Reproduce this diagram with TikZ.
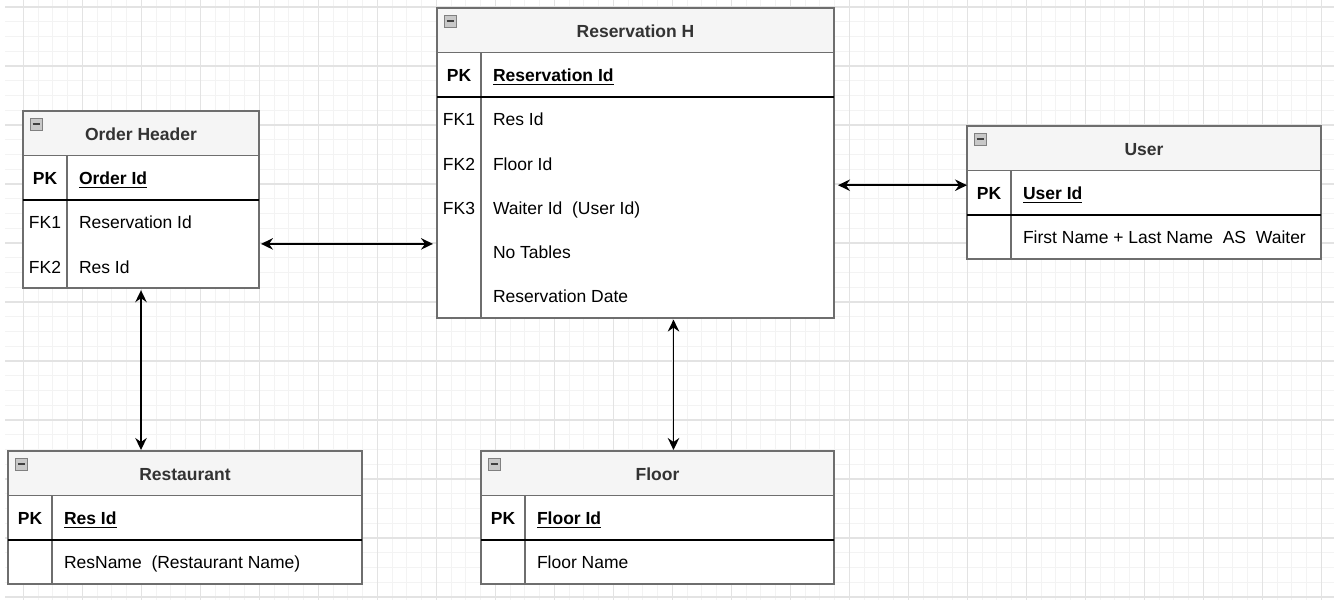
\documentclass[tikz,border=0pt]{standalone}
\usepackage{fontspec}
\setmainfont{Liberation Sans}
\usetikzlibrary{arrows.meta}
\definecolor{gridmajor}{HTML}{E3E3E3}
\definecolor{gridminor}{HTML}{F3F3F3}
\definecolor{bordergray}{HTML}{6E6E6E}
\definecolor{headfill}{HTML}{F5F5F5}
\definecolor{iconfill}{HTML}{C8C8C8}
\newcommand{\pkfield}[1]{\leavevmode\setbox0\hbox{\bfseries #1}\rlap{\vrule width\wd0 height -2.3pt depth 4pt}\box0}

\begin{document}
\begin{tikzpicture}[x=1pt, y=-1pt,
    font=\fontsize{17.5}{21}\selectfont,
    tbl/.style={draw=bordergray, line width=1.5pt, fill=white, anchor=north west, inner sep=0pt, outer sep=0pt},
    hdr/.style={tbl, fill=headfill, minimum height=44.3pt, text=black!80, text height=15pt, text depth=0pt, font=\fontsize{17.5}{21}\selectfont\bfseries},
    icon/.style={draw=gray, fill=iconfill, line width=0.9pt, minimum size=12.5pt, inner sep=0pt, anchor=north west,
        path picture={\draw[black!75, line width=1.8pt] ([xshift=-3.5pt]path picture bounding box.center) -- ([xshift=3.5pt]path picture bounding box.center);}},
    keycell/.style={anchor=north west, minimum width=44pt, minimum height=44.3pt, inner sep=0pt, outer sep=0pt, text height=14pt, text depth=0pt},
    fieldcell/.style={anchor=north west, minimum height=44.3pt, inner xsep=12pt, inner ysep=0pt, outer sep=0pt, text height=14pt, text depth=0pt},
    divline/.style={draw=bordergray, line width=1.5pt},
    pkline/.style={draw=black, line width=2pt},
    rel/.style={<->, >={Stealth[length=12pt, width=11.5pt, inset=4pt]}, line width=1.6pt},
    gridmin/.style={gridminor, line width=1pt},
    gridmaj/.style={gridmajor, line width=1.2pt}]
    \useasboundingbox (0,0) rectangle (1334,600);
    % background grid
    \foreach \k in {0,...,88} \draw[gridmin] ({23.3+14.75*\k},0) -- ({23.3+14.75*\k},600);
    \foreach \k in {0,...,40} \draw[gridmin] (5,{7+14.75*\k}) -- (1334,{7+14.75*\k});
    \foreach \k in {0,...,22} \draw[gridmaj] ({23.3+59*\k},0) -- ({23.3+59*\k},600);
    \foreach \k in {0,...,10} \draw[gridmaj] (5,{7+59*\k}) -- (1334,{7+59*\k});

    % Order Header
    \node[tbl, minimum width=236pt, minimum height=177.2pt] (oh) at (23,111) {};
    \node[hdr, minimum width=236pt] (ohh) at (oh.north west) {Order Header};
    \node[icon] (ohm) at ([shift={(6.5,6.5)}]oh.north west) {};
    \node[keycell] (ohk1) at (ohh.south west) {\textbf{PK}};
    \node[fieldcell] (ohf1) at (ohk1.north east) {\pkfield{Order Id}};
    \node[keycell] (ohk2) at (ohk1.south west) {FK1};
    \node[fieldcell] (ohf2) at (ohk2.north east) {Reservation Id};
    \node[keycell] (ohk3) at (ohk2.south west) {FK2};
    \node[fieldcell] (ohf3) at (ohk3.north east) {Res Id};
    \draw[divline] (ohk1.north east) -- (ohk3.south east);
    \draw[pkline] (ohk1.south west) -- (ohk1.south west -| oh.east);

    % Reservation H
    \node[tbl, minimum width=397pt, minimum height=310.1pt] (rh) at (437,8) {};
    \node[hdr, minimum width=397pt] (rhh) at (rh.north west) {Reservation H};
    \node[icon] (rhm) at ([shift={(6.5,6.5)}]rh.north west) {};
    \node[keycell] (rhk1) at (rhh.south west) {\textbf{PK}};
    \node[fieldcell] (rhf1) at (rhk1.north east) {\pkfield{Reservation Id}};
    \node[keycell] (rhk2) at (rhk1.south west) {FK1};
    \node[fieldcell] (rhf2) at (rhk2.north east) {Res Id};
    \node[keycell] (rhk3) at (rhk2.south west) {FK2};
    \node[fieldcell] (rhf3) at (rhk3.north east) {Floor Id};
    \node[keycell] (rhk4) at (rhk3.south west) {FK3};
    \node[fieldcell] (rhf4) at (rhk4.north east) {Waiter Id\ \ (User Id)};
    \node[keycell] (rhk5) at (rhk4.south west) {};
    \node[fieldcell] (rhf5) at (rhk5.north east) {No Tables};
    \node[keycell] (rhk6) at (rhk5.south west) {};
    \node[fieldcell] (rhf6) at (rhk6.north east) {Reservation Date};
    \draw[divline] (rhk1.north east) -- (rhk6.south east);
    \draw[pkline] (rhk1.south west) -- (rhk1.south west -| rh.east);

    % User
    \node[tbl, minimum width=354pt, minimum height=132.9pt] (usr) at (967,126) {};
    \node[hdr, minimum width=354pt] (usrh) at (usr.north west) {User};
    \node[icon] (usrm) at ([shift={(6.5,6.5)}]usr.north west) {};
    \node[keycell] (usrk1) at (usrh.south west) {\textbf{PK}};
    \node[fieldcell] (usrf1) at (usrk1.north east) {\pkfield{User Id}};
    \node[keycell] (usrk2) at (usrk1.south west) {};
    \node[fieldcell] (usrf2) at (usrk2.north east) {First Name + Last Name\ \ AS\ \ Waiter};
    \draw[divline] (usrk1.north east) -- (usrk2.south east);
    \draw[pkline] (usrk1.south west) -- (usrk1.south west -| usr.east);

    % Restaurant
    \node[tbl, minimum width=354pt, minimum height=132.9pt] (rst) at (8,451) {};
    \node[hdr, minimum width=354pt] (rsth) at (rst.north west) {Restaurant};
    \node[icon] (rstm) at ([shift={(6.5,6.5)}]rst.north west) {};
    \node[keycell] (rstk1) at (rsth.south west) {\textbf{PK}};
    \node[fieldcell] (rstf1) at (rstk1.north east) {\pkfield{Res Id}};
    \node[keycell] (rstk2) at (rstk1.south west) {};
    \node[fieldcell] (rstf2) at (rstk2.north east) {ResName\ \ (Restaurant Name)};
    \draw[divline] (rstk1.north east) -- (rstk2.south east);
    \draw[pkline] (rstk1.south west) -- (rstk1.south west -| rst.east);

    % Floor
    \node[tbl, minimum width=353pt, minimum height=132.9pt] (fl) at (481,451) {};
    \node[hdr, minimum width=353pt] (flh) at (fl.north west) {Floor};
    \node[icon] (flm) at ([shift={(6.5,6.5)}]fl.north west) {};
    \node[keycell] (flk1) at (flh.south west) {\textbf{PK}};
    \node[fieldcell] (flf1) at (flk1.north east) {\pkfield{Floor Id}};
    \node[keycell] (flk2) at (flk1.south west) {};
    \node[fieldcell] (flf2) at (flk2.north east) {Floor Name};
    \draw[divline] (flk1.north east) -- (flk2.south east);
    \draw[pkline] (flk1.south west) -- (flk1.south west -| fl.east);

    % relations
    \draw[rel, shorten <=2pt, shorten >=4pt] (oh.east |- ohk3.north) -- (rh.west |- ohk3.north);
    \draw[rel, shorten <=4pt, shorten >=0pt] (rh.east |- rhk4.north) -- (usr.west |- rhk4.north);
    \draw[rel, shorten <=2pt, shorten >=1pt] (oh.south) -- (oh.south |- rst.north);
    \draw[rel, shorten <=1.5pt, shorten >=1pt] ([xshift=16pt]fl.north |- rh.south) -- ([xshift=16pt]fl.north);
\end{tikzpicture}
\end{document}
